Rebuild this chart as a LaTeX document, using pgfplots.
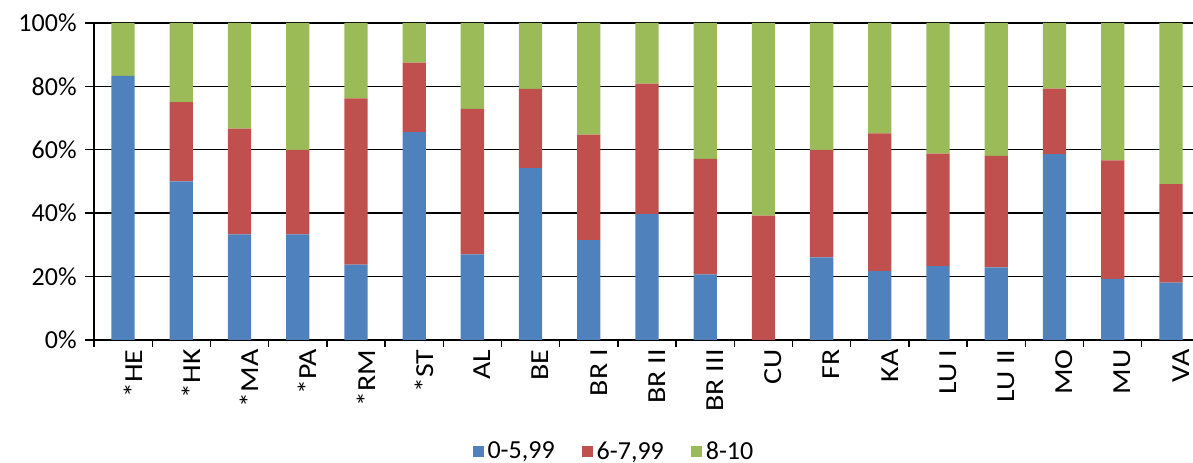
\documentclass[border=0pt]{standalone}
\usepackage{fontspec}
\setmainfont{Carlito}
\usepackage{pgfplots}
\usepackage{pgfplotstable}
\pgfplotsset{compat=1.18}
\definecolor{cblue}{HTML}{4F81BD}
\definecolor{cred}{HTML}{C0504D}
\definecolor{cgreen}{HTML}{9BBB59}

% shares in percent
\pgfplotstableread{
x  blue  red   green
0  83.3  0.0   16.7
1  50.0  25.0  25.0
2  33.3  33.4  33.3
3  33.3  26.7  40.0
4  23.8  52.4  23.8
5  65.6  21.9  12.5
6  27.0  45.9  27.1
7  54.2  25.0  20.8
8  31.5  33.3  35.2
9  39.7  41.2  19.1
10 20.7  36.4  42.9
11 0.0   39.2  60.8
12 26.1  33.9  40.0
13 21.7  43.5  34.8
14 23.3  35.5  41.2
15 22.9  35.2  41.9
16 58.6  20.7  20.7
17 19.3  37.4  43.3
18 18.1  31.1  50.8
}\data

\begin{document}
\begin{tikzpicture}
\pgfplotsset{sq/.style={legend image code/.code={\fill[##1] (0pt,-2.75pt) rectangle (5.5pt,2.75pt);}}}
\begin{axis}[
    name=ax,
    scale only axis,
    width=549.5pt, height=158.5pt,
    ybar stacked, bar width=0.4,
    xmin=-0.5, xmax=18.38,
    ymin=0, ymax=100,
    ytick={0,20,...,100},
    yticklabel={\pgfmathprintnumber{\tick}\%},
    /pgf/number format/assume math mode=true,
    xtick={0,...,18},
    xticklabels={*HE,*HK,*MA,*PA,*RM,*ST,AL,BE,BR I,BR II,BR III,CU,FR,KA,LU I,LU II,MO,MU,VA},
    minor xtick={-0.5,0.5,...,18.5},
    major x tick style={draw=none},
    tick align=outside,
    major tick length=4.5pt,
    minor tick length=3.5pt,
    tick style={black, line width=0.7pt},
    axis x line*=bottom, axis y line*=left,
    axis line style={-, black, line width=0.7pt},
    ymajorgrids,
    grid style={black, line width=0.7pt},
    tick label style={font=\fontsize{13}{15}\selectfont},
    x tick label style={rotate=90, xscale=1.15, anchor=east, inner sep=0pt, yshift=-5pt},
    y tick label style={inner sep=0pt, xshift=-4pt},
    legend style={at={(0.474,-0.353)}, anchor=center, draw=none, legend columns=-1,
        font=\fontsize{13}{15}\selectfont,
        /tikz/every even column/.append style={column sep=11.5pt}},
]
\addplot[fill=cblue, draw=none, sq] table[x=x, y=blue]{\data};
\addlegendentry{0-5,99}
\addplot[fill=cred, draw=none, sq] table[x=x, y=red]{\data};
\addlegendentry{6-7,99}
\addplot[fill=cgreen, draw=none, sq] table[x=x, y=green]{\data};
\addlegendentry{8-10}
\end{axis}
\pgfresetboundingbox
\path ([xshift=-47pt,yshift=-61.5pt]ax.south west) rectangle ([yshift=11.5pt]ax.north east);
\end{tikzpicture}
\end{document}
